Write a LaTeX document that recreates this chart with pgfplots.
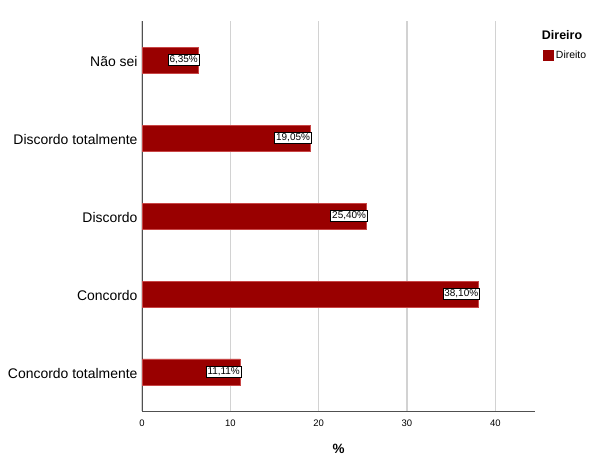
\documentclass[border=0pt]{standalone}
\usepackage{pgfplots}
\pgfplotsset{compat=1.18}
\usepackage{fontspec}
\setmainfont{Liberation Sans}
\definecolor{barred}{RGB}{153,0,0}
\definecolor{baredge}{RGB}{200,70,70}
\definecolor{gridgray}{RGB}{210,210,210}
\definecolor{axgray}{RGB}{80,80,80}
\begin{document}
\begin{tikzpicture}
\useasboundingbox (0,0) rectangle (590bp,456bp);
\begin{axis}[
  at={(142bp,45bp)}, anchor=south west,
  scale only axis, width=393bp, height=390bp,
  xbar, bar width=26bp,
  xmin=0, xmax=44.5, ymin=-0.5, ymax=4.5,
  axis x line*=bottom, axis y line*=left,
  axis line style={axgray, line width=0.8pt},
  xtick={0,10,20,30,40},
  ytick={0,1,2,3,4},
  yticklabels={Concordo totalmente,Concordo,Discordo,Discordo totalmente,Não sei},
  major tick length=0pt,
  xmajorgrids, major grid style={gridgray, line width=1.2pt},
  /pgf/number format/assume math mode=true,
  xticklabel style={font=\fontsize{9.5}{10}\selectfont, yshift=-5bp},
  yticklabel style={font=\fontsize{14}{16}\selectfont, xshift=-1bp, yshift=-2bp},
  xlabel={\textbf{\%}},
  xlabel style={font=\fontsize{13.5}{15}\selectfont, yshift=-11bp},
  nodes near coords={\pgfmathprintnumber[fixed,fixed zerofill,precision=2,use comma]{\pgfplotspointmeta}\%},
  point meta=x,
  every node near coord/.append style={anchor=east, xshift=1.5bp, draw=black, fill=white, line width=0.6pt, inner sep=1.5bp, text depth=0.15em, font=\fontsize{10}{11}\selectfont, text=black},
  legend style={at={(rel axis cs:1,1)}, anchor=north west, xshift=7bp, yshift=-6bp, draw=none, fill=none, font=\fontsize{10.5}{12}\selectfont, row sep=6bp, inner sep=1bp},
  legend cell align=left,
]
\addlegendimage{empty legend}
\addlegendentry{\hspace{-14bp}\fontsize{12.5}{14}\selectfont\textbf{Direiro}}
\addplot[fill=barred, draw=baredge, line width=0.8pt,
  legend image code/.code={\fill[barred] (0bp,-5bp) rectangle (10bp,5bp);}]
  coordinates {(11.11,0) (38.10,1) (25.40,2) (19.05,3) (6.35,4)};
\addlegendentry{Direito}
\end{axis}
\end{tikzpicture}
\end{document}
